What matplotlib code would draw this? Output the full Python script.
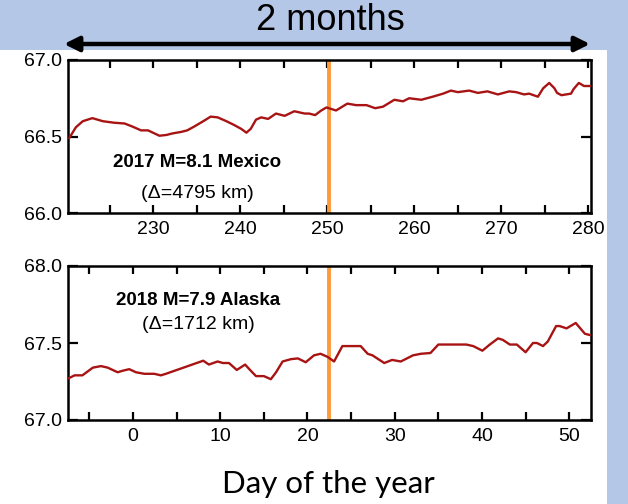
import matplotlib
matplotlib.use("Agg")
import matplotlib.pyplot as plt
from matplotlib.patches import Rectangle
from matplotlib.ticker import MultipleLocator, FormatStrFormatter

plt.rcParams['font.family'] = ['Liberation Sans', 'DejaVu Sans']

# 2017 M=8.1 Mexico event window
mex_day = [220.35, 221.1, 221.9, 223.0, 224.2, 225.5, 226.7, 227.6, 228.6, 229.4,
           230.7, 231.5, 232.2, 233.2, 233.9, 234.7, 235.6, 236.6, 237.4, 238.4,
           239.3, 240.1, 240.7, 241.2, 241.8, 242.4, 243.2, 244.1, 245.1, 246.2,
           247.4, 247.9, 248.6, 249.3, 249.9, 251.0, 252.3, 253.3, 254.5, 255.5,
           256.4, 257.7, 258.7, 259.4, 260.8, 262.1, 263.3, 264.2, 265.0, 266.3,
           267.3, 268.4, 269.6, 270.9, 271.7, 272.6, 273.2, 274.2, 274.8, 275.5,
           276.1, 276.4, 276.9, 278.0, 278.3, 278.9, 279.5, 280.3]
mex_val = [66.49, 66.56, 66.60, 66.62, 66.60, 66.59, 66.585, 66.565, 66.54, 66.54,
           66.505, 66.51, 66.52, 66.53, 66.54, 66.565, 66.595, 66.63, 66.625, 66.60,
           66.575, 66.55, 66.525, 66.55, 66.61, 66.625, 66.615, 66.65, 66.635, 66.665,
           66.65, 66.65, 66.64, 66.67, 66.69, 66.67, 66.715, 66.705, 66.705, 66.685,
           66.695, 66.74, 66.73, 66.75, 66.74, 66.76, 66.78, 66.80, 66.79, 66.80,
           66.785, 66.795, 66.775, 66.795, 66.79, 66.775, 66.78, 66.76, 66.815, 66.85,
           66.815, 66.785, 66.77, 66.78, 66.81, 66.85, 66.83, 66.83]
mex_event = 250.2

# 2018 M=7.9 Alaska event window
ak_day = [-7.4, -6.7, -5.8, -4.6, -3.67, -2.9, -1.76, -1.18, -0.43, 0.34,
          1.3, 2.43, 3.2, 3.77, 8.05, 8.7, 9.7, 10.3, 11.0, 11.9,
          12.85, 13.5, 14.1, 15.0, 15.8, 16.4, 17.15, 18.1, 18.9, 19.8,
          20.75, 21.5, 22.3, 23.05, 24.0, 26.1, 26.9, 27.45, 28.8, 29.7,
          30.7, 32.1, 33.0, 34.1, 35.0, 35.9, 37.1, 38.2, 39.0, 40.05,
          40.9, 41.85, 42.4, 43.2, 44.0, 45.0, 45.85, 46.3, 47.0, 47.55,
          48.5, 48.9, 49.7, 50.75, 51.2, 51.8, 52.5]
ak_val = [67.27, 67.29, 67.29, 67.34, 67.35, 67.34, 67.31, 67.32, 67.33, 67.31,
          67.30, 67.30, 67.29, 67.30, 67.385, 67.36, 67.38, 67.37, 67.37, 67.325,
          67.36, 67.32, 67.285, 67.285, 67.265, 67.31, 67.38, 67.395, 67.40, 67.375,
          67.42, 67.43, 67.41, 67.38, 67.48, 67.48, 67.43, 67.42, 67.37, 67.39,
          67.38, 67.42, 67.43, 67.435, 67.49, 67.49, 67.49, 67.49, 67.48, 67.45,
          67.49, 67.53, 67.52, 67.49, 67.49, 67.44, 67.50, 67.50, 67.48, 67.51,
          67.61, 67.61, 67.595, 67.63, 67.60, 67.56, 67.55]
ak_event = 22.45

LINE = '#a81414'
ORANGE = '#ff9a3c'
BAND = '#b4c7e7'

fig = plt.figure(figsize=(6.28, 5.04), dpi=100, facecolor='white')

# slide background bands (kept beneath everything else)
fig.patches.append(Rectangle((0, 1 - 50 / 504), 1, 50 / 504, transform=fig.transFigure,
                             facecolor=BAND, edgecolor='none', zorder=-2))
fig.patches.append(Rectangle((607 / 628, 0), 21 / 628, 1, transform=fig.transFigure,
                             facecolor=BAND, edgecolor='none', zorder=-2))

W = 628.0
H = 504.0
ax1 = fig.add_axes([68 / W, 1 - 213 / H, 523 / W, 153 / H])
ax2 = fig.add_axes([68 / W, 1 - 420 / H, 523 / W, 154 / H])


def style(ax, xlim, ylim):
    ax.set_xlim(*xlim)
    ax.set_ylim(*ylim)
    ax.xaxis.set_major_locator(MultipleLocator(10))
    ax.xaxis.set_minor_locator(MultipleLocator(5))
    ax.yaxis.set_major_locator(MultipleLocator(0.5))
    ax.yaxis.set_major_formatter(FormatStrFormatter('%.1f'))
    ax.tick_params(which='both', direction='in', top=True, right=True,
                   width=1.6, labelsize=14)
    ax.tick_params(axis='x', which='major', length=6, pad=6)
    ax.tick_params(axis='x', which='minor', length=6)
    ax.tick_params(axis='y', which='major', length=7, pad=4)
    for s in ax.spines.values():
        s.set_linewidth(1.8)


ax1.plot(mex_day, mex_val, color=LINE, lw=1.7, zorder=3,
         solid_joinstyle='round', solid_capstyle='round')
ax1.axvline(mex_event, color=ORANGE, lw=2.8, zorder=2)
style(ax1, (220.2, 280.3), (66.0, 67.0))
ax1.text(0.247, 0.327, '2017 M=8.1 Mexico', transform=ax1.transAxes,
         ha='center', va='center', fontsize=13.5, fontweight='bold')
ax1.text(0.247, 0.13, '(\u0394=4795 km)', transform=ax1.transAxes,
         ha='center', va='center', fontsize=14)

ax2.plot(ak_day, ak_val, color=LINE, lw=1.7, zorder=3,
         solid_joinstyle='round', solid_capstyle='round')
ax2.axvline(ak_event, color=ORANGE, lw=2.8, zorder=2)
style(ax2, (-7.45, 52.5), (67.0, 68.0))
ax2.text(0.249, 0.779, '2018 M=7.9 Alaska', transform=ax2.transAxes,
         ha='center', va='center', fontsize=13.5, fontweight='bold')
ax2.text(0.249, 0.617, '(\u0394=1712 km)', transform=ax2.transAxes,
         ha='center', va='center', fontsize=14)

# span arrow and heading
fig.text(330 / W, 1 - 20 / H, '2 months', ha='center', va='center', fontsize=26)
span = ax1.annotate('', xy=(64 / W, 1 - 44 / H), xytext=(590 / W, 1 - 44 / H),
                    xycoords='figure fraction', textcoords='figure fraction',
                    arrowprops=dict(arrowstyle='<|-|>', color='black', lw=3.2,
                                    mutation_scale=22, shrinkA=0, shrinkB=0),
                    annotation_clip=False)

fig.text(328 / W, 1 - 484 / H, 'Day of the year', ha='center', va='center',
         fontsize=22.5, family=['Lato', 'DejaVu Sans'])

fig.savefig('out.png', dpi=100, facecolor=fig.get_facecolor())
